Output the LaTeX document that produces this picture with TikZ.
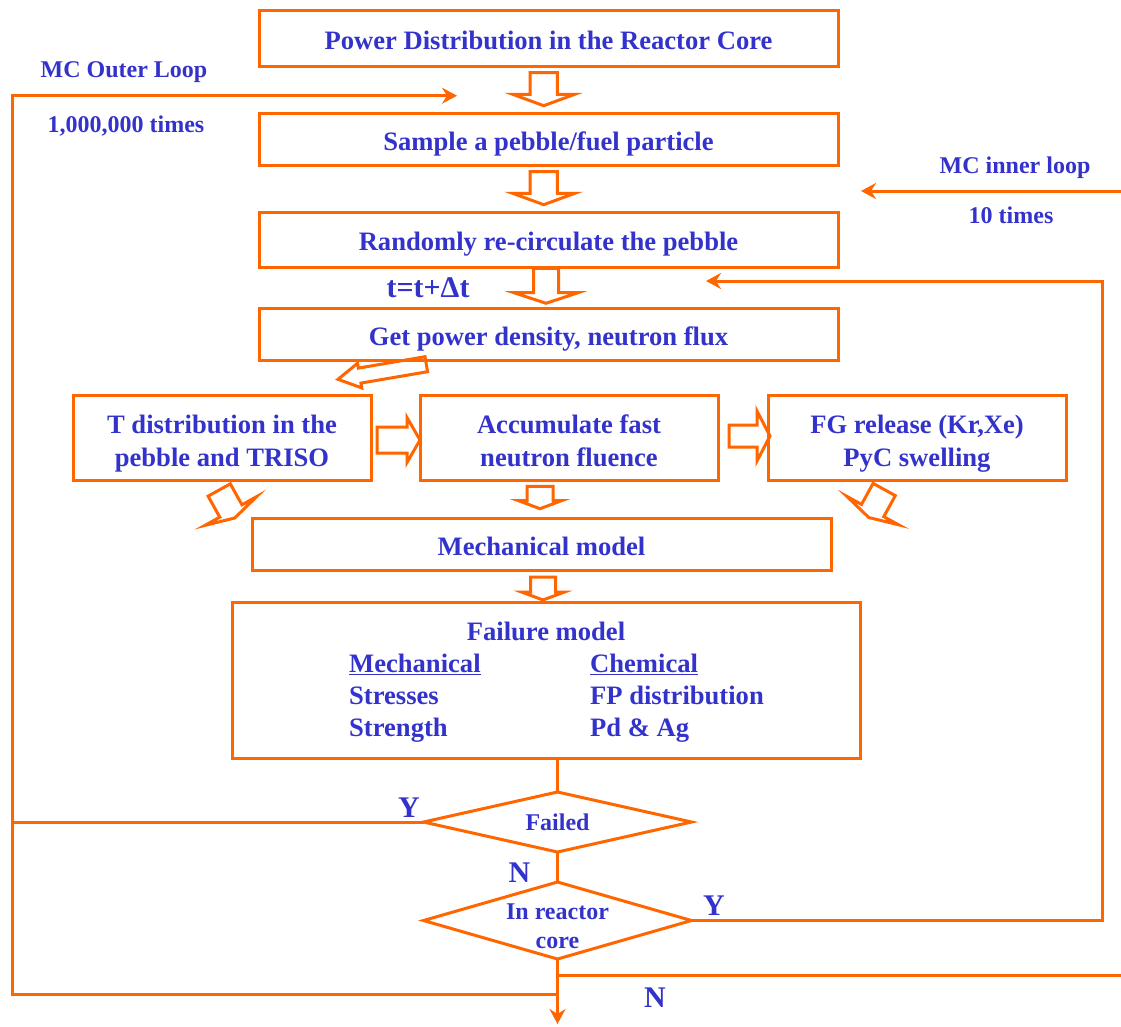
\documentclass[tikz,border=0pt]{standalone}
\usepackage{fontspec}
\setmainfont{Liberation Serif}
\usetikzlibrary{arrows.meta,positioning,shapes.geometric}
\definecolor{flowline}{RGB}{255,102,0}
\definecolor{flowtext}{RGB}{51,51,204}

\begin{document}
\begin{tikzpicture}[
    x=1pt, y=-1pt,
    every node/.style={text=flowtext, font=\bfseries},
    stepbox/.style={draw=flowline, line width=3pt, outer sep=0pt, inner sep=0pt, align=center,
      font=\fontsize{26.6}{33}\selectfont\bfseries, minimum width=579pt, minimum height=52pt},
    onebox/.style={stepbox, execute at begin node={\rule[-6pt]{0pt}{34pt}}},
    rowbox/.style={stepbox, minimum width=298pt, minimum height=85pt,
      execute at begin node={\rule[-6pt]{0pt}{69pt}}},
    modelbox/.style={stepbox, minimum width=628pt, minimum height=156pt,
      font=\fontsize{26.6}{32}\selectfont\bfseries, execute at begin node={\rule{0pt}{59pt}}},
    decision/.style={diamond, draw=flowline, line width=3pt, outer sep=0pt, inner sep=0pt,
      align=center, aspect=3.4, font=\fontsize{24}{29}\selectfont\bfseries, minimum width=268pt},
    looplabel/.style={anchor=base, font=\fontsize{24}{29}\selectfont\bfseries},
    answer/.style={anchor=base, font=\fontsize{30}{36}\selectfont\bfseries},
    flow/.style={draw=flowline, line width=3pt},
    arrow/.style={flow, -{Stealth[length=15pt, width=16pt, inset=5pt]}},
    pics/fatarrow/.style n args={4}{code={
      \draw[flow, line join=miter] (0,-#2) -- (#1-#4,-#2) -- (#1-#4,-#3) -- (#1,0)
        -- (#1-#4,#3) -- (#1-#4,#2) -- (0,#2) -- cycle;}}
  ]
    \useasboundingbox (0,0) rectangle (1121,1026);

    \node[onebox, minimum height=56pt] (power) at (548.5,38) {Power Distribution in the Reactor Core};
    \node[onebox, below=47pt of power] (sample) {Sample a pebble/fuel particle};
    \node[onebox, minimum height=55pt, below=47pt of sample] (recirc) {Randomly re-circulate the pebble};
    \node[onebox, below=41pt of recirc] (getpower) {Get power density, neutron flux};
    \node[rowbox, below=35pt of getpower, xshift=20.5pt] (accum) {Accumulate fast\\neutron fluence};
    \node[rowbox, left=49pt of accum] (tdist) {T distribution in the\\pebble and TRISO};
    \node[rowbox, right=50pt of accum] (fgrel) {FG release (Kr,Xe)\\PyC swelling};
    \node[onebox, below=38pt of accum, xshift=-27.5pt] (mech) {Mechanical model};
    \node[modelbox, below=32pt of mech, xshift=4.5pt] (failure) {Failure model\\
      \begin{tabular}[t]{@{}p{241pt}@{}l@{\hspace{-21pt}}}
        \underline{Mechanical} & \underline{Chemical}\\
        Stresses & FP distribution\\
        Strength & Pd \& Ag
      \end{tabular}};
    \node[decision, minimum height=60pt, below=34pt of failure, xshift=11.5pt] (failed) {Failed};
    \node[decision, minimum height=77pt, below=30pt of failed] (inreact)
      {\raisebox{-28pt}[0pt][0pt]{\begin{tabular}[b]{@{}c@{}}In reactor\\core\end{tabular}}};

    \pic[rotate=-90] at (543.7,72.7) {fatarrow={33}{13.7}{31}{11.4}};
    \pic[rotate=-90] at (543.7,171.7) {fatarrow={33}{13.7}{31}{11.4}};
    \pic[rotate=-90] at (546,268.3) {fatarrow={35}{12.5}{32}{10.6}};
    \pic[rotate=189.7] at (426.3,364.2) {fatarrow={89.6}{7.6}{12.5}{22}};
    \pic at (377,440) {fatarrow={43}{13}{22.5}{13}};
    \pic at (729,436) {fatarrow={41}{11}{25}{13}};
    \pic[rotate=-90] at (540,486.3) {fatarrow={22.4}{13}{21.5}{8}};
    \pic[rotate=-90] at (543,577) {fatarrow={23}{12.5}{21.5}{8}};
    \pic[rotate=-60.9] at (219.2,490) {fatarrow={32}{12.7}{29.5}{8}};
    \pic[rotate=-118.8] at (884.2,489.5) {fatarrow={32}{12.7}{29.5}{8}};

    \coordinate (outerhead) at (457,95.7);
    \coordinate (outertop) at (12,95.7);
    \coordinate (outerbottom) at (12,994);
    \coordinate (outerjoin) at (557.5,994);
    \coordinate (innertail) at (1125,191);
    \coordinate (innerhead) at (861,191);
    \coordinate (backcorner) at (1102.5,281);
    \coordinate (backhead) at (706,281);
    \coordinate (exitline) at (1125,975);
    \coordinate (exit) at (557.5,1024);

    \draw[arrow] (outerjoin) -- (outerbottom) -- (outertop) -- (outerhead);
    \draw[flow] (failed.west) -- (failed.west -| outertop);
    \draw[arrow] (innertail) -- (innerhead);
    \draw[arrow] (inreact.east) -| (backcorner) -- (backhead);
    \draw[flow] (failed.north |- failure.south) -- (failed.north);
    \draw[flow] (failed.south) -- (inreact.north);
    \draw[arrow] (inreact.south) -- (exit);
    \draw[flow] (inreact.south |- exitline) -- (exitline);

    \node[looplabel] (outername) at (124,77) {MC Outer Loop};
    \node[looplabel] (outercount) at (126,132) {1,000,000 times};
    \node[looplabel] (innername) at (1015,173) {MC inner loop};
    \node[looplabel] (innercount) at (1011,223) {10 times};
    \node[answer] (timestep) at (428,297) {t=t+Δt};
    \node[answer] (failedyes) at (409,817) {Y};
    \node[answer] (failedno) at (519.5,882) {N};
    \node[answer] (coreyes) at (714,915) {Y};
    \node[answer] (coreno) at (655,1007) {N};
  \end{tikzpicture}
\end{document}
